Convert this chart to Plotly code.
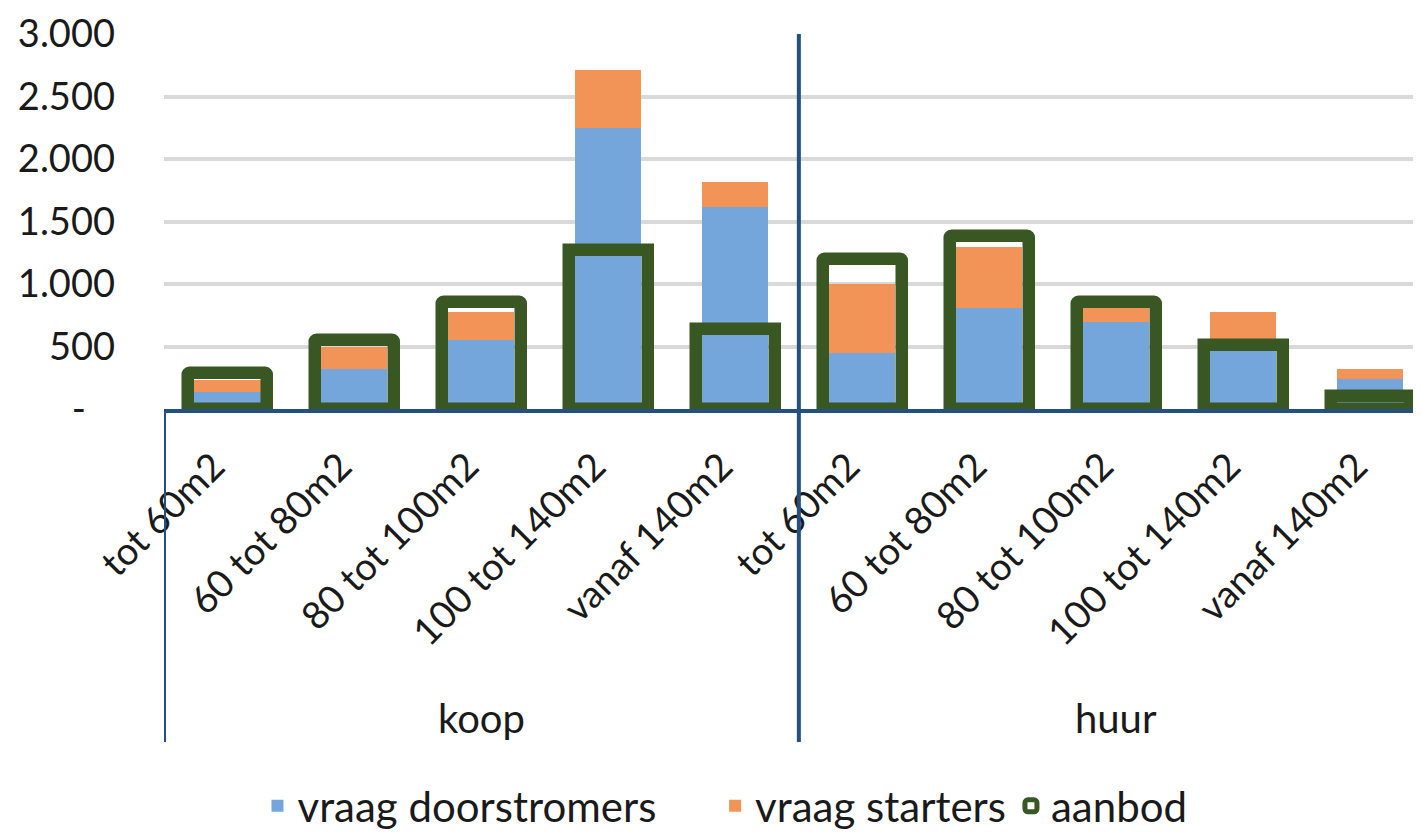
import plotly.graph_objects as go

# ---- data ----
groups = ["koop"] * 5 + ["huur"] * 5
sizes = ["tot 60m2", "60 tot 80m2", "80 tot 100m2", "100 tot 140m2", "vanaf 140m2",
         "tot 60m2", "60 tot 80m2", "80 tot 100m2", "100 tot 140m2", "vanaf 140m2"]
vraag_doorstromers = [140, 320, 550, 2250, 1620, 450, 810, 700, 480, 240]
vraag_starters = [90, 180, 230, 460, 200, 550, 490, 120, 295, 80]
aanbod = [285, 550, 860, 1270, 640, 1200, 1385, 860, 510, 104]
y_tickvals = [0, 500, 1000, 1500, 2000, 2500, 3000]
y_ticktext = ["-\u00a0\u00a0\u00a0", "500", "1.000", "1.500", "2.000", "2.500", "3.000"]
group_names = ["koop", "huur"]
series_names = ["vraag doorstromers", "vraag starters", "aanbod"]

# ---- style ----
FONT = "Lato"
BLUE = "#74A6DC"
ORANGE = "#F29457"
GREEN = "#385723"
AXIS = "#23507F"
GRID = "#D9D9D9"
TXT = "#1A1A1A"

OFF = 8  # page body margin
W, H = 1421 - OFF, 832 - OFF
L, T = 164 - OFF, 34 - OFF
PLOT_H = 375
B = H - T - PLOT_H
PLOT_W = W - L

xpos = list(range(len(sizes)))
tick_labels = [s + "\u00a0\u00a0" for s in sizes]

fig = go.Figure()
fig.add_trace(go.Bar(
    x=xpos, y=vraag_doorstromers, name=series_names[0] + "\u00a0" * 5,
    marker=dict(color=BLUE, line=dict(width=0)), width=0.52,
))
fig.add_trace(go.Bar(
    x=xpos, y=vraag_starters, base=vraag_doorstromers, name=series_names[1],
    marker=dict(color=ORANGE, line=dict(width=0)), width=0.52,
))
fig.add_trace(go.Bar(
    x=xpos, y=aanbod, name=series_names[2],
    marker=dict(color="rgba(255,255,255,0)", line=dict(color=GREEN, width=12.5),
                cornerradius=2),
    width=0.62,
))


def py_to_paper(py_page):
    return (T + PLOT_H - (py_page - OFF)) / PLOT_H


def px_to_paper(px_page):
    return (px_page - OFF - L) / PLOT_W


shapes = []
shapes.append(dict(type="line", xref="x", yref="paper", x0=-0.5, x1=-0.5,
                   y0=0, y1=py_to_paper(742), line=dict(color=AXIS, width=4)))
n_koop = groups.count("koop")
shapes.append(dict(type="line", xref="x", yref="paper", x0=n_koop - 0.5, x1=n_koop - 0.5,
                   y0=1, y1=py_to_paper(742), line=dict(color=AXIS, width=4)))

annotations = []
for g in group_names:
    idx = [i for i, gg in enumerate(groups) if gg == g]
    center = (idx[0] + idx[-1]) / 2
    annotations.append(dict(x=center, xref="x", y=py_to_paper(718), yref="paper",
                            text=g, showarrow=False, yanchor="middle",
                            font=dict(family=FONT, size=40, color=TXT)))

fig.update_layout(
    width=W, height=H,
    margin=dict(l=L, r=0, t=T, b=B, autoexpand=False),
    paper_bgcolor="white", plot_bgcolor="white",
    barmode="overlay",
    bargap=0,
    font=dict(family=FONT, size=34, color=TXT),
    shapes=shapes,
    annotations=annotations,
    showlegend=True,
    legend=dict(orientation="h", x=px_to_paper(725), xanchor="center",
                y=py_to_paper(806), yanchor="middle",
                font=dict(family=FONT, size=42, color=TXT),
                itemwidth=30, traceorder="normal"),
)
fig.update_xaxes(
    range=[-0.5, 9.4],
    tickmode="array", tickvals=xpos, ticktext=tick_labels, tickangle=-45,
    showline=True, linecolor=AXIS, linewidth=4,
    showgrid=False, zeroline=False, ticks="",
    tickfont=dict(family=FONT, size=38, color=TXT),
    ticklabelstandoff=2,
    automargin=False,
)
fig.update_yaxes(
    range=[0, 3000],
    tickmode="array", tickvals=y_tickvals, ticktext=y_ticktext,
    showline=False, zeroline=False,
    showgrid=True, gridcolor=GRID, gridwidth=4,
    tickfont=dict(family=FONT, size=38, color=TXT),
    ticks="", ticklabelstandoff=48,
    automargin=False,
)

fig.write_html("out.html")
